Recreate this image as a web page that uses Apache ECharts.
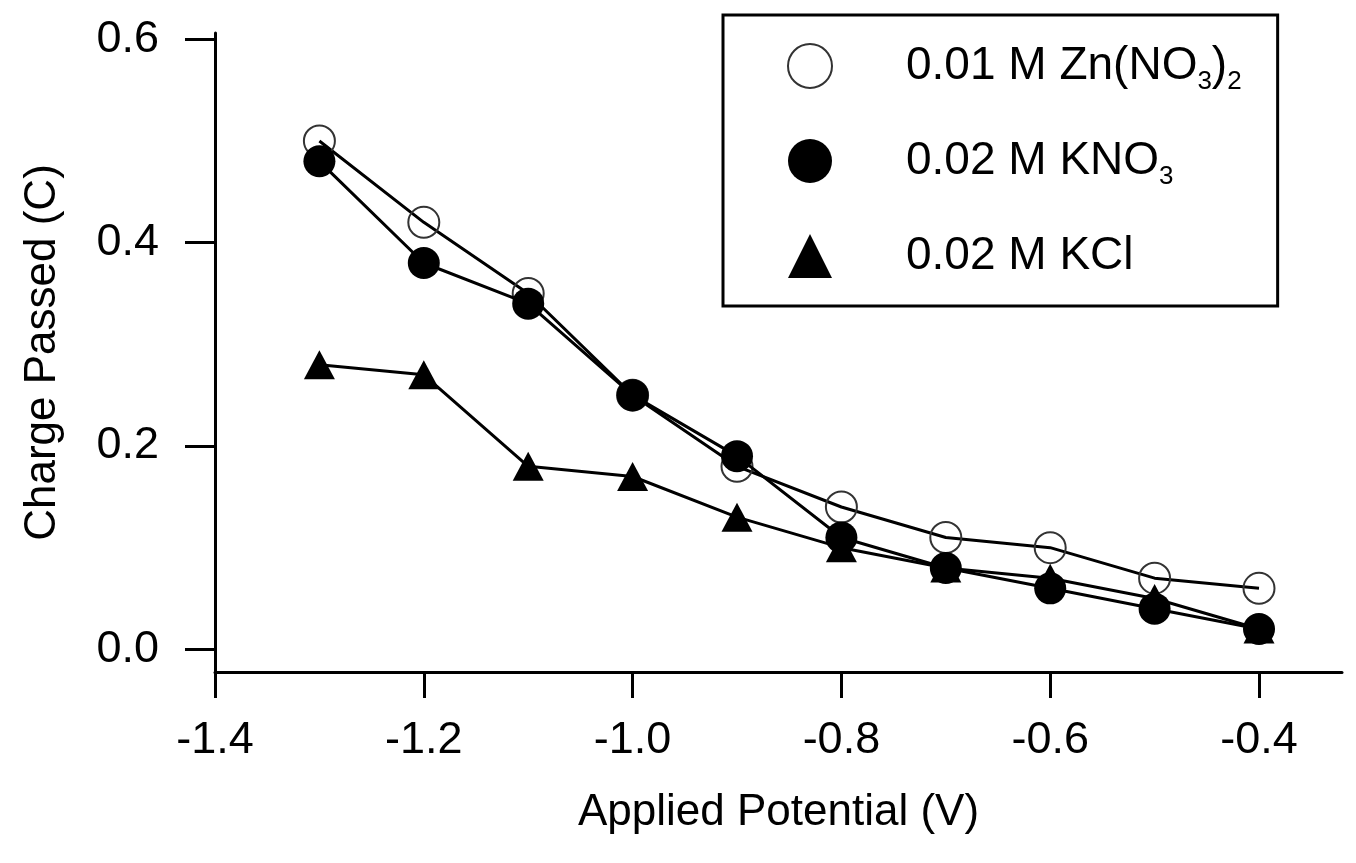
<!DOCTYPE html>
<html>
<head>
<meta charset="utf-8">
<script src="https://cdn.jsdelivr.net/npm/echarts@6/dist/echarts.min.js"></script>
<style>
  html, body { margin: 0; padding: 0; background: #fff; }
  #chart { width: 1356px; height: 863px; }
</style>
</head>
<body>
<div id="chart"></div>
<script>
// data
const potentials = [-1.3, -1.2, -1.1, -1.0, -0.9, -0.8, -0.7, -0.6, -0.5, -0.4];
const znNitrate = [0.50, 0.42, 0.35, 0.25, 0.18, 0.14, 0.11, 0.10, 0.07, 0.06];
const kNitrate = [0.48, 0.38, 0.34, 0.25, 0.19, 0.11, 0.08, 0.06, 0.04, 0.02];
const kChloride = [0.28, 0.27, 0.18, 0.17, 0.13, 0.10, 0.08, 0.07, 0.05, 0.02];
const yTicks = [0, 0.2, 0.4, 0.6];

const names = ['0.01 M Zn(NO3)2', '0.02 M KNO3', '0.02 M KCl'];
const richNames = {
  '0.01 M Zn(NO3)2': '0.01 M Zn(NO{sub|3}){sub|2}',
  '0.02 M KNO3': '0.02 M KNO{sub|3}',
  '0.02 M KCl': '0.02 M KCl'
};

const font = '"Liberation Sans", Arial, sans-serif';
const pairs = ys => potentials.map((x, i) => [x, ys[i]]);

const chart = echarts.init(document.getElementById('chart'));

const option = {
  animation: false,
  backgroundColor: '#fff',
  textStyle: { fontFamily: font, color: '#000' },
  grid: { left: 215, right: 14, top: 33, bottom: 191, containLabel: false },
  legend: {
    orient: 'vertical',
    left: 723,
    top: 15,
    padding: [28, 36, 27, 64],
    itemGap: 43,
    itemWidth: 44,
    itemHeight: 44,
    borderColor: '#000',
    borderWidth: 3,
    selectedMode: false,
    data: [
      { name: names[0], icon: 'circle', itemStyle: { color: '#fff', borderColor: '#333', borderWidth: 2 } },
      { name: names[1], icon: 'circle', itemStyle: { color: '#000', borderWidth: 0 } },
      { name: names[2], icon: 'triangle', itemStyle: { color: '#000', borderWidth: 0 } }
    ],
    formatter: name => richNames[name],
    textStyle: {
      fontFamily: font,
      fontSize: 46,
      color: '#000',
      padding: [0, 0, 0, 69],
      rich: {
        sub: { fontFamily: font, fontSize: 26, color: '#000', verticalAlign: 'bottom', padding: [0, 0, -6, 0] }
      }
    }
  },
  xAxis: {
    type: 'value',
    min: -1.4,
    max: -0.3205,
    interval: 0.2,
    name: 'Applied Potential (V)',
    nameLocation: 'middle',
    nameGap: 119,
    nameTextStyle: { fontFamily: font, fontSize: 44, color: '#000' },
    axisLine: { onZero: false, lineStyle: { color: '#000', width: 3 } },
    axisTick: { inside: false, length: 26, lineStyle: { color: '#000', width: 3 } },
    axisLabel: {
      margin: 46,
      fontSize: 45,
      color: '#000',
      fontFamily: font,
      showMaxLabel: false,
      formatter: v => v.toFixed(1)
    },
    splitLine: { show: false }
  },
  yAxis: {
    type: 'value',
    min: -0.0223,
    max: 0.6062,
    name: 'Charge Passed (C)',
    nameLocation: 'middle',
    nameGap: 150,
    nameTextStyle: { fontFamily: font, fontSize: 44, color: '#000' },
    axisLine: { show: true, onZero: false, lineStyle: { color: '#000', width: 3 } },
    axisTick: { show: true, length: 30, customValues: yTicks, lineStyle: { color: '#000', width: 3 } },
    axisLabel: {
      margin: 56,
      fontSize: 45,
      color: '#000',
      fontFamily: font,
      customValues: yTicks,
      formatter: v => v.toFixed(1)
    },
    splitLine: { show: false }
  },
  series: [
    {
      name: names[0],
      type: 'line',
      data: pairs(znNitrate),
      symbol: 'circle',
      symbolSize: 31,
      itemStyle: { color: 'rgba(255,255,255,0)', borderColor: '#333', borderWidth: 2 },
      lineStyle: { color: '#000', width: 3 },
      emphasis: { disabled: true },
      z: 2
    },
    {
      name: names[2],
      type: 'line',
      data: pairs(kChloride),
      symbol: 'triangle',
      symbolSize: [31, 29],
      itemStyle: { color: '#000', borderWidth: 0 },
      lineStyle: { color: '#000', width: 3 },
      emphasis: { disabled: true },
      z: 3
    },
    {
      name: names[1],
      type: 'line',
      data: pairs(kNitrate),
      symbol: 'circle',
      symbolSize: 32,
      itemStyle: { color: '#000', borderWidth: 0 },
      lineStyle: { color: '#000', width: 3 },
      emphasis: { disabled: true },
      z: 4
    }
  ]
};

chart.setOption(option);
</script>
</body>
</html>
